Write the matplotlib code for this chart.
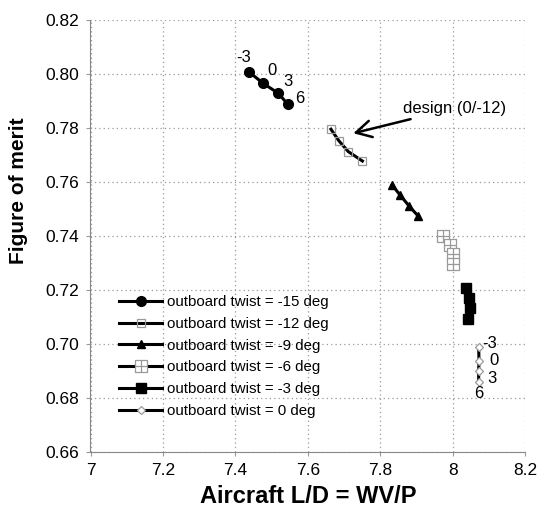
import matplotlib
matplotlib.use("Agg")
import matplotlib.pyplot as plt
from matplotlib.path import Path
import numpy as np

plt.rcParams['font.family'] = ['Liberation Sans', 'DejaVu Sans']

# ---- data ----
twist_labels = ["outboard twist = -15 deg", "outboard twist = -12 deg",
                "outboard twist = -9 deg", "outboard twist = -6 deg",
                "outboard twist = -3 deg", "outboard twist = 0 deg"]
ld_m15 = [7.439, 7.477, 7.519, 7.545]
fm_m15 = [0.8006, 0.7965, 0.7928, 0.7887]
ld_m12 = [7.664, 7.686, 7.712, 7.751]
fm_m12 = [0.7795, 0.7752, 0.7712, 0.7677]
ld_m9 = [7.833, 7.855, 7.880, 7.905]
fm_m9 = [0.7588, 0.7551, 0.7510, 0.7473]
ld_m6 = [7.973, 7.993, 8.000, 8.000]
fm_m6 = [0.7399, 0.7365, 0.7331, 0.7294]
ld_m3 = [8.038, 8.046, 8.048, 8.042]
fm_m3 = [0.7207, 0.7168, 0.7131, 0.7091]
ld_0 = [8.072, 8.073, 8.072, 8.072]
fm_0 = [0.6989, 0.6937, 0.6898, 0.6859]
inboard_labels = ["-3", "0", "3", "6"]

xticks = [7, 7.2, 7.4, 7.6, 7.8, 8, 8.2]
xticklabels = ["7", "7.2", "7.4", "7.6", "7.8", "8", "8.2"]
yticks = [0.66, 0.68, 0.70, 0.72, 0.74, 0.76, 0.78, 0.80, 0.82]
yticklabels = ["0.66", "0.68", "0.70", "0.72", "0.74", "0.76", "0.78", "0.80", "0.82"]

# ---- figure ----
W, H = 542, 513
fig = plt.figure(figsize=(W / 100, H / 100), dpi=100)
ax = fig.add_axes([90.5 / W, 1 - 451.5 / H, (525 - 90.5) / W, (451.5 - 20) / H])

gray = '#9a9a9a'
sq_plus = Path([(-1, -1), (1, -1), (1, 1), (-1, 1), (-1, -1),
                (0, -1), (0, 1), (-1, 0), (1, 0)],
               [Path.MOVETO, Path.LINETO, Path.LINETO, Path.LINETO, Path.CLOSEPOLY,
                Path.MOVETO, Path.LINETO, Path.MOVETO, Path.LINETO])

lw = 2.2
ax.plot(ld_m15, fm_m15, '-', color='black', lw=lw, marker='o', ms=7,
        mfc='black', mec='black', label=twist_labels[0], zorder=3)
ax.plot(ld_m12, fm_m12, '-', color='black', lw=lw, marker='s', ms=5.5,
        mfc='none', mec=gray, mew=0.9, label=twist_labels[1], zorder=3)
ax.plot(ld_m9, fm_m9, '-', color='black', lw=lw, marker='^', ms=5.5,
        mfc='black', mec='black', label=twist_labels[2], zorder=3)
ax.plot(ld_m6, fm_m6, '-', color='black', lw=lw, marker=sq_plus, ms=8,
        mfc='white', mec=gray, mew=0.9, label=twist_labels[3], zorder=3)
ax.plot(ld_m3, fm_m3, '-', color='black', lw=lw, marker='s', ms=7,
        mfc='black', mec='black', label=twist_labels[4], zorder=3)
ax.plot(ld_0, fm_0, '-', color='black', lw=lw, marker='D', ms=4.5,
        mfc='white', mec=gray, mew=0.9, label=twist_labels[5], zorder=3)

# inboard twist labels
offs_m15 = [(-4.3, 10.8), (6.0, 9.0), (7.2, 8.4), (8.9, 4.3)]
for x, y, t, o in zip(ld_m15, fm_m15, inboard_labels, offs_m15):
    ax.annotate(t, (x, y), xytext=o, textcoords='offset points',
                ha='center', va='center', fontsize=12)
offs_0 = [(7.6, 1.9), (10.8, 0.0), (9.4, -5.3), (0.2, -8.4)]
for x, y, t, o in zip(ld_0, fm_0, inboard_labels, offs_0):
    ax.annotate(t, (x, y), xytext=o, textcoords='offset points',
                ha='center', va='center', fontsize=12)

ax.annotate("design (0/-12)", xy=(7.726, 0.778), xytext=(7.864, 0.7873),
            fontsize=12, ha='left', va='center',
            arrowprops=dict(arrowstyle='->,head_length=0.55,head_width=0.3',
                            color='black', lw=1.8,
                            mutation_scale=20, shrinkA=2, shrinkB=0))

ax.set_xlim(7, 8.2)
ax.set_ylim(0.66, 0.82)
ax.set_xticks(xticks)
ax.set_xticklabels(xticklabels)
ax.set_yticks(yticks)
ax.set_yticklabels(yticklabels)
ax.tick_params(labelsize=12.5, length=3, color=gray, width=0.8, pad=5)
ax.grid(True, linestyle=(0, (1, 2.5)), color='#9a9a9a', lw=0.9)
for s in ['top', 'right']:
    ax.spines[s].set_visible(False)
for s in ['bottom', 'left']:
    ax.spines[s].set_color('#888888')
    ax.spines[s].set_linewidth(0.8)

ax.set_xlabel("Aircraft L/D = WV/P", fontsize=17, fontweight='bold', labelpad=5)
ax.set_ylabel("Figure of merit", fontsize=15, fontweight='bold')
ax.yaxis.set_label_coords(-0.144, 0.604)

leg = ax.legend(loc='upper left', bbox_to_anchor=(119.3 / W, 1 - 295 / H),
                bbox_transform=fig.transFigure, frameon=False, fontsize=10.8,
                handlelength=2.87, handletextpad=0.3, labelspacing=0.52,
                borderpad=0, borderaxespad=0)

fig.savefig("out.png", dpi=100)
